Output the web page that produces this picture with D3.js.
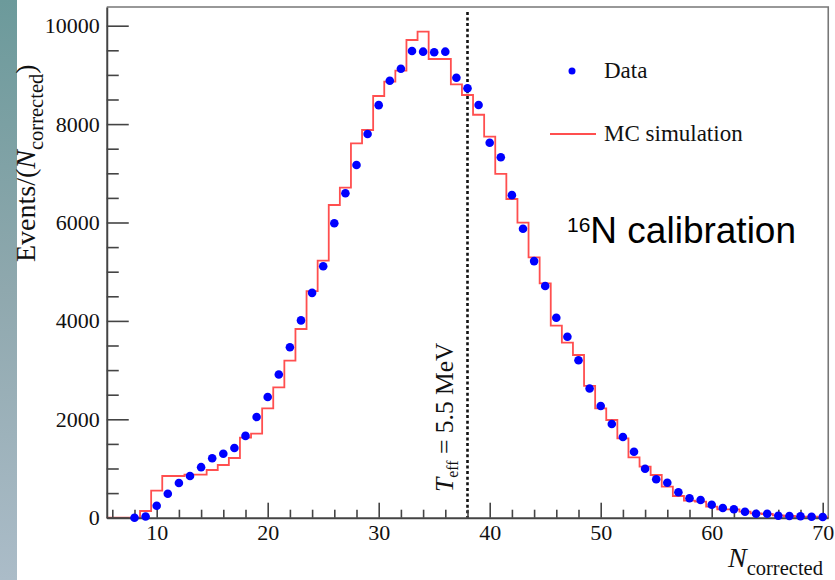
<!DOCTYPE html>
<html><head><meta charset="utf-8">
<script src="https://cdn.jsdelivr.net/npm/d3@7"></script>
<style>
html,body{margin:0;padding:0;background:#fff;}
svg{display:block;}
</style></head>
<body>
<svg id="chart" width="835" height="580"></svg>
<script>
// ---- data ----
const dataN = [8,9,10,11,12,13,14,15,16,17,18,19,20,21,22,23,24,25,26,27,28,29,30,31,32,33,34,35,36,37,38,39,40,41,42,43,44,45,46,47,48,49,50,51,52,53,54,55,56,57,58,59,60,61,62,63,64,65,66,67,68,69,70];
const dataEvents = [0,25,244,488,705,848,1027,1207,1301,1417,1663,2047,2453,2912,3465,4010,4570,5110,5984,6595,7170,7800,8385,8880,9126,9486,9472,9460,9472,8943,8728,8388,7622,7325,6556,5874,5215,4709,4065,3679,3199,2625,2270,1904,1640,1341,996,780,711,516,394,360,264,197,171,122,81,81,41,35,28,20,15];
const mcBins = [6,7,8,9,10,11,12,13,14,15,16,17,18,19,20,21,22,23,24,25,26,27,28,29,30,31,32,33,34,35,36,37,38,39,40,41,42,43,44,45,46,47,48,49,50,51,52,53,54,55,56,57,58,59,60,61,62,63,64,65,66,67,68,69,70];
const mcEvents = [0,0,0,136,549,848,848,874,874,970,1071,1213,1626,1707,2224,2650,3191,3835,4607,5224,6356,6710,7610,7880,8571,8862,9085,9709,9878,9323,9323,8809,8591,8190,7744,6990,6478,5996,5293,4764,3902,3557,3307,2680,2224,1986,1614,1228,1037,868,630,441,346,325,224,171,171,122,88,75,48,35,20,20,13];
const xMajorTicks = [10,20,30,40,50,60,70];
const xMinorTicks = [6,8,12,14,16,18,22,24,26,28,32,34,36,38,42,44,46,48,52,54,56,58,62,64,66,68];
const yMajorTicks = [0,2000,4000,6000,8000,10000];
const yMinorTicks = [500,1000,1500,2500,3000,3500,4500,5000,5500,6500,7000,7500,8500,9000,9500];
const thresholdN = 38;
const thresholdLabel = ["T","eff"," = 5.5 MeV"];
const legendLabels = ["Data","MC simulation"];

// ---- layout ----
const svg = d3.select("#chart");
const x = d3.scaleLinear().domain([5.5,70.5]).range([106.75,828.25]);
const y = d3.scaleLinear().domain([0,10380]).range([517.7,7]);
const serif = "'Liberation Serif','Times New Roman',serif";

// left gradient strip
const defs = svg.append("defs");
const grad = defs.append("linearGradient").attr("id","strip").attr("x1",0).attr("y1",0).attr("x2",0).attr("y2",1);
grad.append("stop").attr("offset","0%").attr("stop-color","#6c9a9b");
grad.append("stop").attr("offset","50%").attr("stop-color","#8fa8ae");
grad.append("stop").attr("offset","100%").attr("stop-color","#abbcc8");
svg.append("rect").attr("x",0).attr("y",0).attr("width",17).attr("height",580).attr("fill","url(#strip)");

// frame (top & right)
svg.append("path")
  .attr("d",`M${x(5.5)},${y(10380)}H${x(70.5)}V${y(0)}`)
  .attr("fill","none").attr("stroke","#777").attr("stroke-width",1.6);

// MC histogram
const stepPts = mcBins.map((b,i)=>[b-0.5, mcEvents[i]]);
stepPts.push([mcBins[mcBins.length-1]+0.5, mcEvents[mcEvents.length-1]]);
const stepLine = d3.line().x(d=>x(d[0])).y(d=>y(d[1])).curve(d3.curveStepAfter);
svg.append("path").datum(stepPts).attr("d",stepLine)
  .attr("fill","none").attr("stroke","#ff4f4f").attr("stroke-width",1.8);

// threshold dotted line
svg.append("line")
  .attr("x1",x(thresholdN)).attr("x2",x(thresholdN))
  .attr("y1",y(10280)).attr("y2",y(0))
  .attr("stroke","#111").attr("stroke-width",2.6).attr("stroke-dasharray","3,2.6");

// axes
function styleAxis(g){
  g.selectAll(".domain").attr("stroke","#444").attr("stroke-width",2);
  g.selectAll(".tick line").attr("stroke","#444").attr("stroke-width",1.6);
  g.selectAll(".tick text").attr("fill","#111").style("font-family",serif).style("font-size","22px");
}
const yAxis = svg.append("g").attr("transform",`translate(${x(5.5)},0)`)
  .call(d3.axisLeft(y).tickValues(yMajorTicks).tickSizeInner(-22).tickSizeOuter(0).tickPadding(7).tickFormat(d3.format("d")));
styleAxis(yAxis);
const yMinor = svg.append("g").attr("transform",`translate(${x(5.5)},0)`)
  .call(d3.axisLeft(y).tickValues(yMinorTicks).tickSizeInner(-12).tickSizeOuter(0).tickFormat(""));
yMinor.select(".domain").remove(); styleAxis(yMinor);

const xAxis = svg.append("g").attr("transform",`translate(0,${y(0)})`)
  .call(d3.axisBottom(x).tickValues(xMajorTicks).tickSizeInner(-15).tickSizeOuter(0).tickPadding(7).tickFormat(d3.format("d")));
styleAxis(xAxis);
const xMinor = svg.append("g").attr("transform",`translate(0,${y(0)})`)
  .call(d3.axisBottom(x).tickValues(xMinorTicks).tickSizeInner(-8).tickSizeOuter(0).tickFormat(""));
xMinor.select(".domain").remove(); styleAxis(xMinor);

// data points
svg.append("g").selectAll("circle").data(dataN.map((n,i)=>({n,v:dataEvents[i]})))
  .join("circle").attr("cx",d=>x(d.n)).attr("cy",d=>y(d.v)).attr("r",4.3).attr("fill","#0000ff");

// threshold label (rotated)
const tl = svg.append("text").attr("transform",`translate(453,492) rotate(-90)`)
  .style("font-family",serif).style("font-size","25.5px").attr("fill","#111");
tl.append("tspan").style("font-style","italic").text(thresholdLabel[0]);
tl.append("tspan").attr("dy",5).style("font-size","16px").text(thresholdLabel[1]);
tl.append("tspan").attr("dy",-5).text(thresholdLabel[2]);

// legend
svg.append("circle").attr("cx",572).attr("cy",71).attr("r",3.5).attr("fill","#0000ff");
svg.append("text").attr("x",604).attr("y",78).style("font-family",serif).style("font-size","23px").attr("fill","#111").text(legendLabels[0]);
svg.append("line").attr("x1",550).attr("x2",596).attr("y1",134).attr("y2",134).attr("stroke","#ff4f4f").attr("stroke-width",1.8);
svg.append("text").attr("x",604).attr("y",141).style("font-family",serif).style("font-size","23px").attr("fill","#111").text(legendLabels[1]);

// 16N calibration
const cal = svg.append("text").attr("x",567).attr("y",243).style("font-family","'Liberation Sans',Arial,sans-serif").attr("fill","#000");
cal.append("tspan").attr("dy",-11).style("font-size","21px").text("16");
cal.append("tspan").attr("dy",11).style("font-size","37px").text("N calibration");

// y label
const yl = svg.append("text").attr("transform",`translate(35,262) rotate(-90)`)
  .style("font-family",serif).style("font-size","28px").attr("fill","#111");
yl.append("tspan").text("Events/(");
yl.append("tspan").style("font-style","italic").text("N");
yl.append("tspan").attr("dy",8).style("font-size","20.5px").text("corrected");
yl.append("tspan").attr("dy",-8).text(")");

// x label
const xl = svg.append("text").attr("x",728).attr("y",567)
  .style("font-family",serif).attr("fill","#111");
xl.append("tspan").style("font-style","italic").style("font-size","28px").text("N");
xl.append("tspan").attr("dy",8).style("font-size","20.5px").text("corrected");
</script>
</body></html>
